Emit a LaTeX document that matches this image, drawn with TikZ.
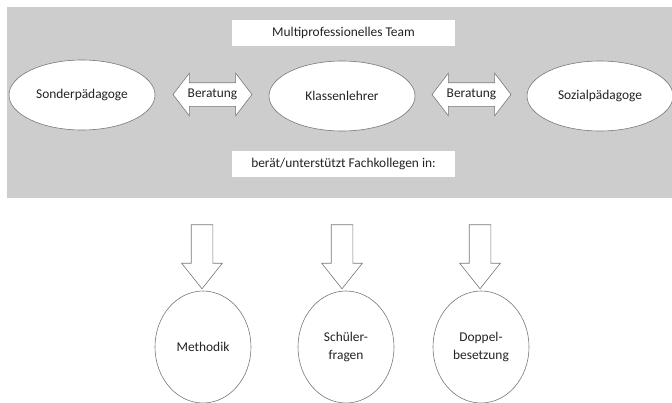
\documentclass[tikz,border=0pt]{standalone}
\usepackage{fontspec}
\setmainfont{Carlito}
\usetikzlibrary{shapes.geometric,shapes.arrows}
\definecolor{teamgray}{RGB}{205,205,205}
\definecolor{linegray}{RGB}{120,120,120}
\definecolor{textgray}{RGB}{35,35,35}

\begin{document}
\begin{tikzpicture}[
x=1pt,y=-1pt,
every node/.style={font=\fontsize{13.4}{18}\selectfont,text=textgray},
role/.style={ellipse,draw=linegray,fill=white,line width=0.6pt,minimum width=146pt,minimum height=70pt},
task/.style={ellipse,draw=linegray,fill=white,line width=0.6pt,minimum width=96pt,minimum height=112pt,align=center},
banner/.style={fill=white,minimum width=223pt,minimum height=26pt,inner sep=0pt},
talk/.style={double arrow,draw=linegray,fill=white,line width=0.6pt,double arrow tip angle=105,double arrow head extend=9.5pt,minimum height=79pt,minimum width=42pt,text height=8pt,text depth=3pt,inner ysep=6pt,inner xsep=0pt},
push/.style={single arrow,draw=linegray,fill=white,line width=0.6pt,rotate=-90,single arrow tip angle=77,single arrow head extend=9.5pt,minimum height=64pt,minimum width=40pt,inner xsep=0pt,inner ysep=10.5pt}
]
\useasboundingbox (0,0) rectangle (672,402);
% team area
\fill[teamgray] (7,7) rectangle (672,198);
\node[banner] (team) at (343.5,33) {Multiprofessionelles Team};
\node[role] (sonder) at (82,95) {Sonderpädagoge};
\node[role] (klasse) at (342,96) {Klassenlehrer};
\node[role] (sozial) at (600,96) {Sozialpädagoge};
\node[talk] (rat1) at (212.5,94.5) {Beratung};
\node[talk] (rat2) at (471.5,94.5) {Beratung};
\node[banner] (fach) at (343.5,164) {berät/unterstützt Fachkollegen in:};
% tasks
\node[task] (methodik) at (203,347) {Methodik};
\node[task] (fragen) at (346,347) {Schüler-\\fragen};
\node[task] (doppel) at (481,347) {Doppel-\\besetzung};
\node[push] (zu1) at (202,250) {};
\node[push] (zu2) at (342,250) {};
\node[push] (zu3) at (480,250) {};
\end{tikzpicture}
\end{document}
